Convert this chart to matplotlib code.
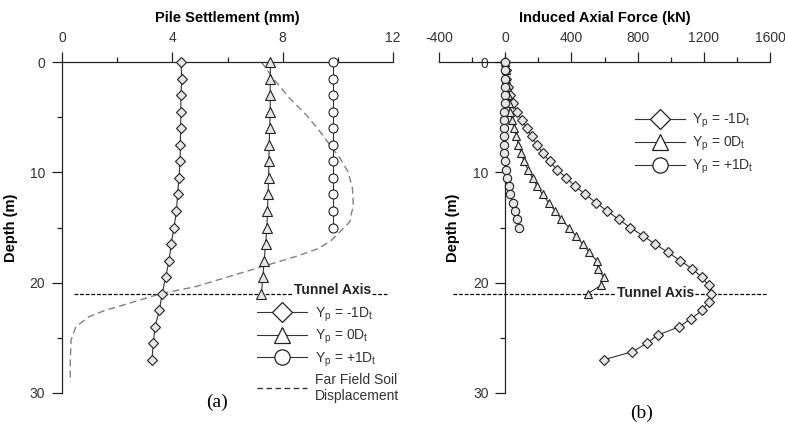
import numpy as np
import matplotlib
matplotlib.use("Agg")
import matplotlib.pyplot as plt
from matplotlib.lines import Line2D
from matplotlib.ticker import MultipleLocator

plt.rcParams['font.family'] = ['Liberation Sans', 'DejaVu Sans']
plt.rcParams['mathtext.fontset'] = 'custom'
plt.rcParams['mathtext.rm'] = 'Liberation Sans'
plt.rcParams['axes.unicode_minus'] = False

# ---- pile settlement (mm) vs depth (m) ----
depth_set = np.arange(0, 27.01, 1.5)
settle_m1 = [4.31, 4.34, 4.31, 4.31, 4.30, 4.29, 4.28, 4.24, 4.19, 4.15,
             4.06, 3.96, 3.88, 3.76, 3.63, 3.53, 3.37, 3.31, 3.26]
settle_0 = [7.55, 7.55, 7.55, 7.55, 7.53, 7.51, 7.50, 7.49, 7.47, 7.45,
            7.43, 7.38, 7.33, 7.28, 7.23]
settle_p1 = [9.84, 9.84, 9.84, 9.84, 9.84, 9.84, 9.84, 9.84, 9.84, 9.84, 9.84]

# far field soil displacement
ff_depth = [0.0, 1.5, 3.3, 4.8, 6.3, 7.5, 8.7, 9.95, 11.45, 12.96, 14.5, 15.4,
            16.2, 16.9, 17.65, 18.55, 19.46, 20.37, 20.97, 21.88, 22.5, 23.1,
            24.0, 25.2, 27.0, 29.0]
ff_settle = [7.23, 7.66, 8.26, 8.86, 9.35, 9.71, 10.07, 10.37, 10.53, 10.56,
             10.43, 10.07, 9.75, 9.30, 8.45, 7.25, 6.04, 4.83, 3.62, 2.42,
             1.57, 0.97, 0.50, 0.33, 0.30, 0.30]

# ---- induced axial force (kN) vs depth (m) ----
depth_f = np.arange(0, 27.01, 0.75)
force_m1 = [0, 2, 6, 14, 26, 46, 70, 101, 131, 161, 191, 228, 268, 312, 369,
            423, 483, 550, 614, 685, 755, 832, 906, 983, 1057, 1130, 1188,
            1229, 1243, 1229, 1192, 1124, 1051, 922, 856, 769, 594]
force_0 = [0, 3, 7, 12, 17, 23, 30, 40, 54, 67, 80, 96, 113, 137, 165, 193,
           226, 262, 302, 338, 385, 427, 468, 508, 552, 560, 594, 578, 498]
force_p1 = [0, 0, -1, -2, -3, -4, -5, -6, -6, -6, -6, -5, -3, 2, 10, 20, 32,
            45, 58, 72, 86]

tunnel_depth = 21.0

lbl_m1 = r'Y$_\mathregular{p}$ = -1D$_\mathregular{t}$'
lbl_0 = r'Y$_\mathregular{p}$ = 0D$_\mathregular{t}$'
lbl_p1 = r'Y$_\mathregular{p}$ = +1D$_\mathregular{t}$'

line_c = '#333333'
fill_c = '#e6e6e6'

fig = plt.figure(figsize=(7.85, 4.34), dpi=100)
ax1 = fig.add_axes([62 / 785, 1 - 393 / 434, 331 / 785, 331 / 434])
ax2 = fig.add_axes([439 / 785, 1 - 393 / 434, 331 / 785, 331 / 434])


def style_axes(ax):
    ax.invert_yaxis()
    ax.xaxis.tick_top()
    ax.xaxis.set_label_position('top')
    ax.spines['right'].set_visible(False)
    ax.spines['bottom'].set_visible(False)
    for s in ('top', 'left'):
        ax.spines[s].set_linewidth(0.9)
        ax.spines[s].set_color('#222222')
    ax.yaxis.set_major_locator(MultipleLocator(10))
    ax.yaxis.set_minor_locator(MultipleLocator(5))
    ax.tick_params(which='major', length=7, width=0.9, color='#222222',
                   labelsize=10, pad=5, labelcolor='#333333')
    ax.tick_params(which='minor', length=3.6, width=0.9, color='#222222')


# ---- panel (a) ----
ax1.set_xlim(0, 12)
ax1.set_ylim(0, 30)
style_axes(ax1)
ax1.xaxis.set_major_locator(MultipleLocator(4))
ax1.xaxis.set_minor_locator(MultipleLocator(2))
ax1.set_title('Pile Settlement (mm)', fontweight='bold', fontsize=10.5, pad=7)
ax1.set_ylabel('Depth (m)', fontweight='bold', fontsize=10.5)
ax1.yaxis.set_label_coords(-0.133, 0.5)

ax1.plot(ff_settle, ff_depth, color='#808080', lw=1.0, dashes=(5, 3), zorder=2)
ax1.plot(settle_m1, depth_set, color=line_c, lw=0.8, marker='D', ms=5.5,
         mfc=fill_c, mec='#222222', mew=0.8, clip_on=False, zorder=3)
ax1.plot(settle_0, depth_set[:len(settle_0)], color=line_c, lw=0.8, marker='^',
         ms=6.5, mfc=fill_c, mec='#222222', mew=0.8, clip_on=False, zorder=3)
ax1.plot(settle_p1, depth_set[:len(settle_p1)], color=line_c, lw=0.8, marker='o',
         ms=6.5, mfc='white', mec='#222222', mew=0.8, clip_on=False, zorder=3)

ax1.plot([0.43, 11.8], [tunnel_depth, tunnel_depth], color='black', lw=0.9,
         dashes=(3, 1.5), zorder=1)
ax1.text(9.82, tunnel_depth - 0.35, 'Tunnel Axis', fontweight='bold', fontsize=10,
         ha='center', va='center', color='#222222',
         bbox=dict(facecolor='white', edgecolor='none', pad=0.3), zorder=1.5)

leg_handles = [
    Line2D([], [], color=line_c, lw=0.8, marker='D', ms=10, mfc='white', mec='#222222', mew=0.9),
    Line2D([], [], color=line_c, lw=0.8, marker='^', ms=11, mfc='white', mec='#222222', mew=0.9),
    Line2D([], [], color=line_c, lw=0.8, marker='o', ms=11, mfc='white', mec='#222222', mew=0.9),
]
leg1 = ax1.legend(leg_handles + [Line2D([], [], color='#333333', lw=1.0, dashes=(4, 2.5))],
                  [lbl_m1, lbl_0, lbl_p1, 'Far Field Soil\nDisplacement'],
                  loc='upper left', bbox_to_anchor=(0.589, 0.265), frameon=False,
                  fontsize=10, handlelength=3.6, handletextpad=0.6,
                  labelspacing=0.3, borderpad=0, borderaxespad=0)
for t in leg1.get_texts():
    t.set_color('#333333')

# ---- panel (b) ----
ax2.set_xlim(-400, 1600)
ax2.set_ylim(0, 30)
style_axes(ax2)
ax2.spines['left'].set_position(('data', 0))
ax2.xaxis.set_major_locator(MultipleLocator(400))
ax2.xaxis.set_minor_locator(MultipleLocator(200))
ax2.set_title('Induced Axial Force (kN)', fontweight='bold', fontsize=10.5, pad=7)
ax2.set_ylabel('Depth (m)', fontweight='bold', fontsize=10.5)
ax2.yaxis.set_label_coords(0.063, 0.5)

ax2.plot(force_m1, depth_f, color=line_c, lw=0.8, marker='D', ms=5,
         mfc=fill_c, mec='#222222', mew=0.8, clip_on=False, zorder=3)
ax2.plot(force_0, depth_f[:len(force_0)], color=line_c, lw=0.8, marker='^',
         ms=6, mfc=fill_c, mec='#222222', mew=0.8, clip_on=False, zorder=3)
ax2.plot(force_p1, depth_f[:len(force_p1)], color=line_c, lw=0.8, marker='o',
         ms=6, mfc=fill_c, mec='#222222', mew=0.8, clip_on=False, zorder=3)

ax2.plot([-315, 1588], [tunnel_depth, tunnel_depth], color='black', lw=0.9,
         dashes=(3, 1.5), zorder=1)
ax2.text(906, tunnel_depth - 0.1, 'Tunnel Axis', fontweight='bold', fontsize=10,
         ha='center', va='center', color='#222222',
         bbox=dict(facecolor='white', edgecolor='none', pad=0.3), zorder=1.5)

leg2 = ax2.legend(leg_handles, [lbl_m1, lbl_0, lbl_p1],
                  loc='upper left', bbox_to_anchor=(0.592, 0.85), frameon=False,
                  fontsize=10, handlelength=3.6, handletextpad=0.5,
                  labelspacing=0.35, borderpad=0, borderaxespad=0)
for t in leg2.get_texts():
    t.set_color('#333333')

fig.text(217 / 785, 1 - 402 / 434, '(a)', family='Liberation Serif', fontsize=14,
         ha='center', va='center')
fig.text(642 / 785, 1 - 413 / 434, '(b)', family='Liberation Serif', fontsize=14,
         ha='center', va='center')

fig.savefig('out.png', dpi=100)
